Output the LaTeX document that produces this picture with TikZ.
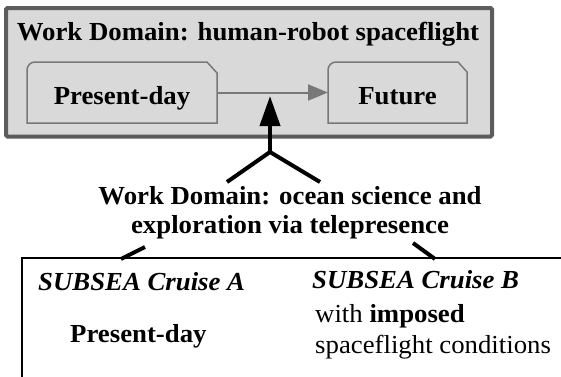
\documentclass[tikz,border=0pt]{standalone}
\usepackage{fontspec}
\setmainfont{Liberation Serif}[FakeStretch=1.03]
\usetikzlibrary{arrows.meta, positioning}
\definecolor{panelfill}{HTML}{D9D9D9}
\definecolor{paneledge}{HTML}{5C5C5C}
\definecolor{tabedge}{HTML}{787878}
\newcommand{\bigfont}{\fontsize{26}{29}\selectfont}
\tikzset{
	% outer grey panel
	panel/.style={
		draw=paneledge,
		fill=panelfill,
		line width=4pt,
		rounded corners=1.5pt
	}, %
	% phase boxes inside the panel
	phase/.style={
		rectangle,
		inner sep=0pt,
		outer sep=0pt,
		minimum height=61pt,
		text height=23pt,
		text depth=0pt,
		font=\bigfont\bfseries
	}, %
	tabline/.style={draw=tabedge, line width=1.5pt},
	% thick black links
	link/.style={line width=4pt},
	boldtext/.style={inner sep=0pt, font=\bigfont\bfseries},
	cruisetext/.style={inner sep=0pt, anchor=base west, font=\bigfont\bfseries\itshape},
	plaintext/.style={inner sep=0pt, anchor=base west, font=\bigfont}
}

\begin{document}
\begin{tikzpicture}[x=1pt, y=1pt]
	\useasboundingbox (0,0) rectangle (561,-376);

	% panel
	\draw[panel] (6,-8) rectangle (492,-136.5);
	\node[boldtext, anchor=base] (title) at (248,-40) {Work Domain: human-robot spaceflight};

	% phases
	\node[phase, minimum width=190pt] (today) at (122,-92.5) {Present-day};
	\node[phase, minimum width=139pt] (future) at (397.5,-92.5) {Future};
	\draw[tabline] (today.south west) -- ([yshift=-8]today.north west)
		arc[start angle=180, end angle=90, radius=8] -- ([xshift=-10]today.north east)
		-- ([yshift=-11]today.north east) -- (today.south east) -- cycle;
	\draw[tabline] (future.south west) -- ([yshift=-8]future.north west)
		arc[start angle=180, end angle=90, radius=8] -- ([xshift=-9]future.north east)
		-- ([yshift=-10]future.north east) -- (future.south east) -- cycle;
	\draw[draw=tabedge, line width=2pt, -{Triangle[length=20pt, width=16pt]}] (today) -- (future);

	% fork
	\coordinate (fork) at (270,-152);
	\coordinate (tip) at (270,-96);
	\coordinate (legA) at (227,-182);
	\coordinate (legB) at (320,-182);
	\draw[link, -{Triangle[length=30pt, width=20pt]}] (fork) -- (tip);
	\draw[link] (legA) -- (fork) -- (legB);

	% ocean domain
	\node[boldtext, align=center, anchor=base] (ocean) at (290,-233)
		{Work Domain: ocean science and\\exploration via telepresence};

	% cruises
	\coordinate (boxNW) at (22,-258);
	\coordinate (boxSE) at (640,-420);
	\draw[line width=2pt] (boxNW) rectangle (boxSE);
	\coordinate (hookA) at (145,-247);
	\coordinate (footA) at (121,-259);
	\coordinate (hookB) at (413,-243);
	\coordinate (footB) at (435,-259);
	\draw[link] (hookA) -- (footA);
	\draw[link] (hookB) -- (footB);

	\node[cruisetext] (cruiseA) at (38,-290) {SUBSEA Cruise A};
	\node[boldtext, anchor=base west] (todayA) at (70,-342) {Present-day};
	\node[cruisetext] (cruiseB) at (312,-288) {SUBSEA Cruise B};
	\node[plaintext] (imposed) at (315,-322) {with \textbf{imposed}};
	\node[plaintext] (cond) at (315,-353) {spaceflight conditions};
\end{tikzpicture}
\end{document}
